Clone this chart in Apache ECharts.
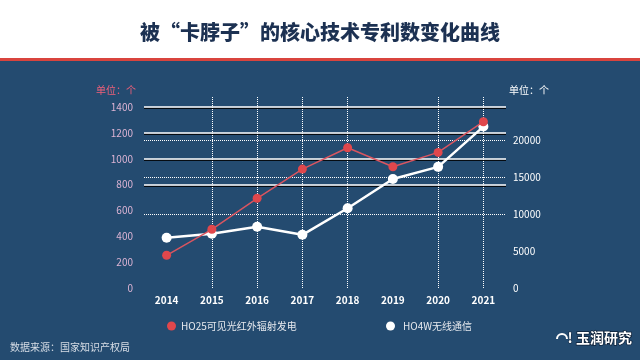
<!DOCTYPE html>
<html><head><meta charset="utf-8">
<script src="https://cdn.jsdelivr.net/npm/echarts@6/dist/echarts.min.js"></script>
<style>html,body{margin:0;padding:0;background:#244b70;}#c{width:640px;height:360px;}</style>
</head><body><div id="c"></div>
<script>
// ---- data ----
const years = ['2014', '2015', '2016', '2017', '2018', '2019', '2020', '2021'];
const seriesNames = ['HO25可见光红外辐射发电', 'HO4W无线通信'];
const ho25 = [253, 454, 694, 920, 1085, 938, 1049, 1286];          // left axis, 个
const ho4w = [6800, 7350, 8300, 7200, 10800, 14750, 16400, 21850]; // right axis, 个
const leftTicks = [0, 200, 400, 600, 800, 1000, 1200, 1400];
const rightTicks = [0, 5000, 10000, 15000, 20000];

const FONT = '"Noto Sans CJK SC", "Noto Sans", sans-serif';
const chart = echarts.init(document.getElementById('c'), null, {renderer: 'canvas'});

const leftStep = leftTicks[1] - leftTicks[0];
const rightStep = rightTicks[1] - rightTicks[0];

const option = {
  backgroundColor: '#244b70',
  animation: false,
  textStyle: {fontFamily: FONT},
  graphic: [
    {type: 'rect', x: 0, y: 0, shape: {width: 640, height: 58}, style: {fill: '#ffffff'}, z: -1},
    {type: 'rect', x: 0, y: 58, shape: {width: 640, height: 3}, style: {fill: '#d9443e'}, z: -1},
    {type: 'text', x: 320, y: 32, style: {text: '被“卡脖子”的核心技术专利数变化曲线', fill: '#1c3152',
      font: '900 20px ' + FONT, align: 'center', verticalAlign: 'middle'}},
    {type: 'text', x: 116, y: 90, style: {text: '单位：个', fill: '#f0607a', font: '10px ' + FONT,
      align: 'center', verticalAlign: 'middle'}},
    {type: 'text', x: 529, y: 90, style: {text: '单位：个', fill: '#ffffff', font: '10px ' + FONT,
      align: 'center', verticalAlign: 'middle'}},
    {type: 'text', x: 10, y: 347, style: {text: '数据来源：国家知识产权局', fill: '#d6dde6', font: '10px ' + FONT,
      align: 'left', verticalAlign: 'middle'}},
    {type: 'arc', shape: {cx: 562, cy: 339, r: 5, startAngle: Math.PI, endAngle: 2 * Math.PI}, style: {stroke: '#fff', lineWidth: 2, fill: null}},
    {type: 'text', x: 570, y: 338, style: {text: '!', fill: '#ffffff', font: 'bold 14px ' + FONT,
      align: 'center', verticalAlign: 'middle', stroke: '#0d1f36', lineWidth: 1}},
    {type: 'text', x: 604, y: 338, style: {text: '玉润研究', fill: '#ffffff', font: 'bold 14px ' + FONT,
      align: 'center', verticalAlign: 'middle', stroke: '#0d1f36', lineWidth: 1.5}}
  ],
  grid: {left: 144, right: 134, top: 107, bottom: 72, containLabel: false},
  legend: [
    {data: [seriesNames[0]], left: 167, top: 321, padding: 0, icon: 'circle', itemWidth: 9, itemHeight: 9,
      textStyle: {color: '#e6e9ee', fontSize: 10, fontFamily: FONT}},
    {data: [seriesNames[1]], left: 386, top: 321, padding: 0, icon: 'circle', itemWidth: 9, itemHeight: 9,
      textStyle: {color: '#e6e9ee', fontSize: 10, fontFamily: FONT, padding: [0, 0, 0, 3]}}
  ],
  xAxis: {
    type: 'category', data: years, boundaryGap: true,
    axisLine: {show: false},
    axisTick: {show: true, inside: true, length: 191, alignWithLabel: true,
      interval: (i) => i !== 0 && i !== 5,
      lineStyle: {color: '#ffffff', type: 'dotted', width: 1}},
    axisLabel: {color: '#ffffff', fontSize: 10, fontWeight: 'bold', margin: 7, interval: 0, fontFamily: FONT},
    splitLine: {show: false}
  },
  yAxis: [
    {
      type: 'value', position: 'left',
      min: leftTicks[0], max: leftTicks[leftTicks.length - 1], interval: leftStep,
      axisLine: {show: false}, axisTick: {show: false},
      axisLabel: {color: '#dcb4d4', fontSize: 10, margin: 11, formatter: (v) => String(v)},
      splitLine: {show: true, lineStyle: {
        color: ['transparent', 'transparent', 'transparent', 'transparent', '#ffffff', '#ffffff', '#ffffff', '#ffffff'],
        width: 1.5, shadowColor: 'rgba(0,0,0,0.85)', shadowOffsetY: 1.2, shadowBlur: 0}}
    },
    {
      type: 'value', position: 'right',
      min: rightTicks[0], max: 24500, interval: rightStep,
      axisLine: {show: false}, axisTick: {show: false},
      axisLabel: {color: '#ffffff', fontSize: 10, margin: 7,
        formatter: (v) => rightTicks.indexOf(v) >= 0 ? String(v) : ''},
      splitLine: {show: true, lineStyle: {
        color: ['transparent', 'transparent', '#ffffff', '#ffffff', '#ffffff', 'transparent'],
        type: 'dotted', width: 1}}
    }
  ],
  series: [
    {name: seriesNames[0], type: 'line', yAxisIndex: 0, data: ho25, symbol: 'circle', symbolSize: 9,
      itemStyle: {color: '#e0474c'}, lineStyle: {color: '#d95560', width: 1.5}, z: 4},
    {name: seriesNames[1], type: 'line', yAxisIndex: 1, data: ho4w, symbol: 'circle', symbolSize: 10,
      itemStyle: {color: '#ffffff'}, lineStyle: {color: '#ffffff', width: 2.5}, z: 3}
  ]
};
chart.setOption(option);
</script>
</body></html>
